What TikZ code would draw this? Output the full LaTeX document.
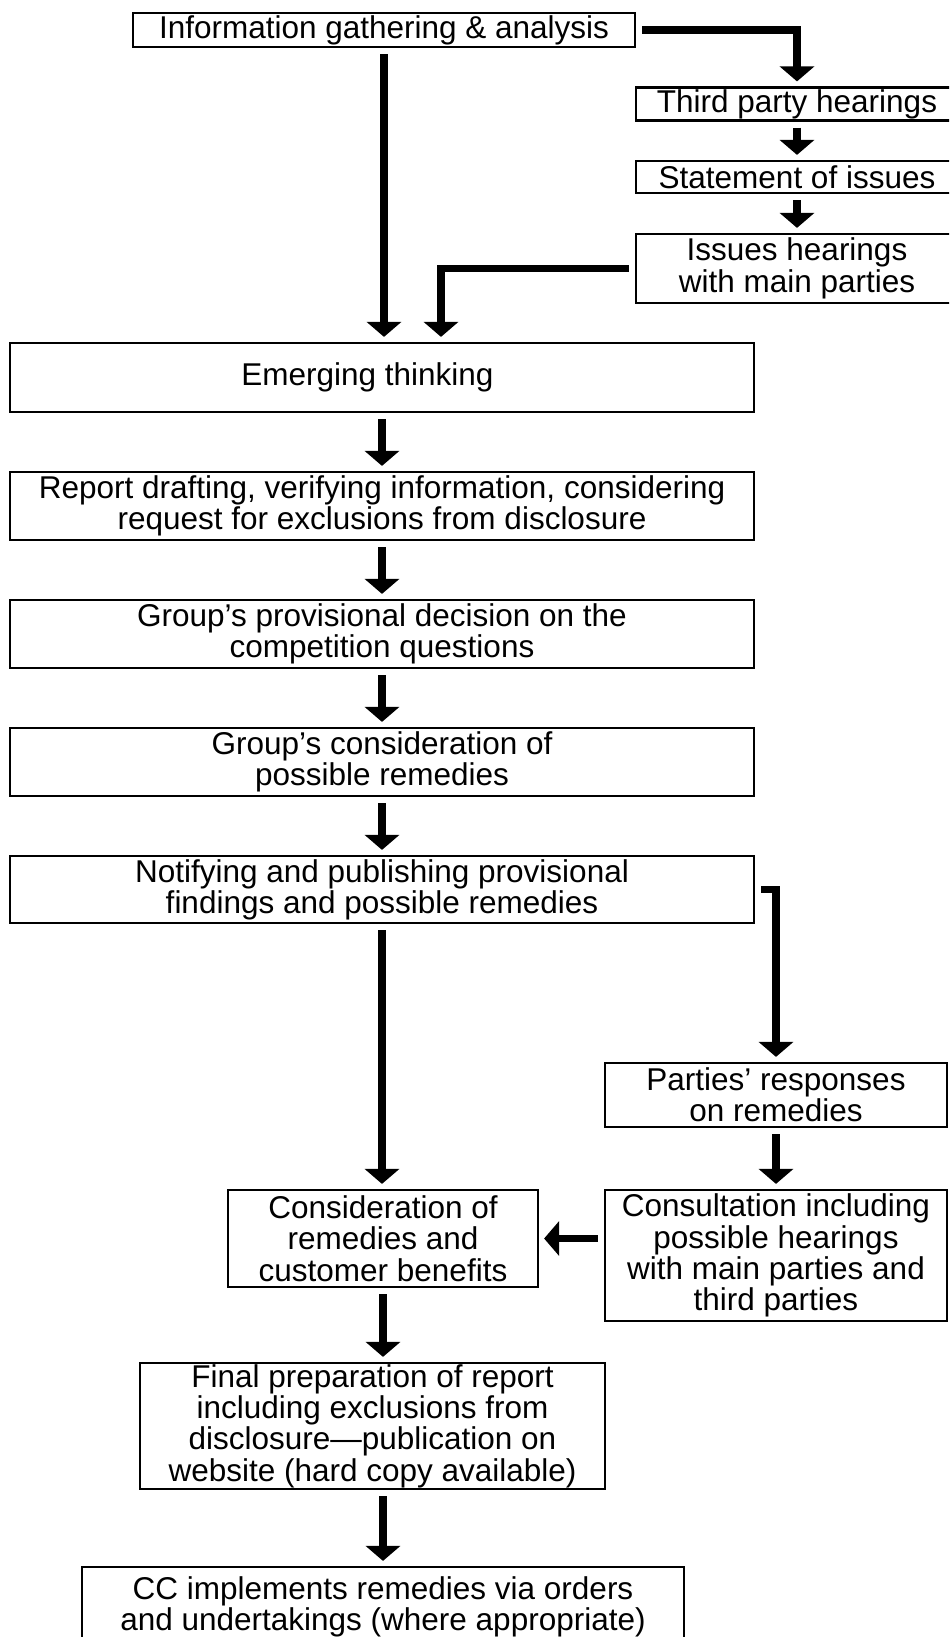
\documentclass[tikz,border=0pt]{standalone}
\usepackage{fontspec}
\setmainfont{Liberation Sans}
\usetikzlibrary{arrows.meta}

\begin{document}
\begin{tikzpicture}[x=1bp,y=-1bp,
    stage/.style={draw,line width=2.2bp,align=center,inner sep=1bp,
        font=\fontsize{31.5bp}{31.3bp}\selectfont},
    flow/.style={line width=7.5bp,-{Triangle[length=15bp,width=34bp]},
        shorten <=6bp,shorten >=5bp}]
 \useasboundingbox (0,0) rectangle (949,1637);
 \clip (0,0) rectangle (949,1637);
 \node[stage,minimum width=502bp,minimum height=34bp] (info) at (384,30)
     {Information gathering \& analysis};
 \node[stage,minimum width=322bp,minimum height=33bp] (third) at (797,104)
     {Third party hearings};
 \node[stage,minimum width=322bp,minimum height=32bp] (statement) at (797,177)
     {Statement of issues};
 \node[stage,minimum width=322bp,minimum height=69bp] (issues) at (797,268.5)
     {Issues hearings\\with main parties};
 \node[stage,minimum width=744bp,minimum height=69bp] (emerging) at (382,377.5)
     {\hspace*{-29bp}Emerging thinking};
 \node[stage,minimum width=744bp,minimum height=68bp] (report) at (382,506)
     {Report drafting, verifying information, considering\\request for exclusions from disclosure};
 \node[stage,minimum width=744bp,minimum height=68bp] (provisional) at (382,634)
     {Group’s provisional decision on the\\competition questions};
 \node[stage,minimum width=744bp,minimum height=68bp] (groupremedies) at (382,762)
     {Group’s consideration of\\possible remedies};
 \node[stage,minimum width=744bp,minimum height=67bp] (notify) at (382,889.5)
     {Notifying and publishing provisional\\findings and possible remedies};
 \node[stage,minimum width=342bp,minimum height=64bp] (responses) at (776,1095)
     {Parties’ responses\\on remedies};
 \node[stage,minimum width=342bp,minimum height=131bp] (consult) at (776,1255.5)
     {Consultation including\\possible hearings\\with main parties and\\third parties};
 \node[stage,minimum width=310bp,minimum height=97bp] (benefits) at (383,1238.5)
     {Consideration of\\remedies and\\customer benefits};
 \node[stage,minimum width=465bp,minimum height=126bp] (final) at (372.5,1426)
     {Final preparation of report\\including exclusions from\\disclosure---publication on\\website (hard copy available)};
 \node[stage,minimum width=602bp,minimum height=80bp] (implement) at (383,1607)
     {CC implements remedies via orders\\and undertakings (where appropriate)};
 \draw[flow] (info.east) -| (third.north);
 \draw[flow] (third) -- (statement);
 \draw[flow] (statement) -- (issues);
 \draw[flow] (info.south) -- (info.south |- emerging.north);
 \draw[flow] (issues.west) -| ([xshift=59bp]emerging.north);
 \draw[flow] (emerging) -- (report);
 \draw[flow] (report) -- (provisional);
 \draw[flow] (provisional) -- (groupremedies);
 \draw[flow] (groupremedies) -- (notify);
 \draw[flow] (notify.east) -| (responses.north);
 \draw[flow] (notify.south) -- (notify.south |- benefits.north);
 \draw[flow] (responses) -- (consult);
 \draw[flow] (consult.west |- benefits.east) -- (benefits.east);
 \draw[flow] (benefits.south) -- (benefits.south |- final.north);
 \draw[flow] (benefits.south |- final.south) -- (benefits.south |- implement.north);
\end{tikzpicture}
\end{document}
